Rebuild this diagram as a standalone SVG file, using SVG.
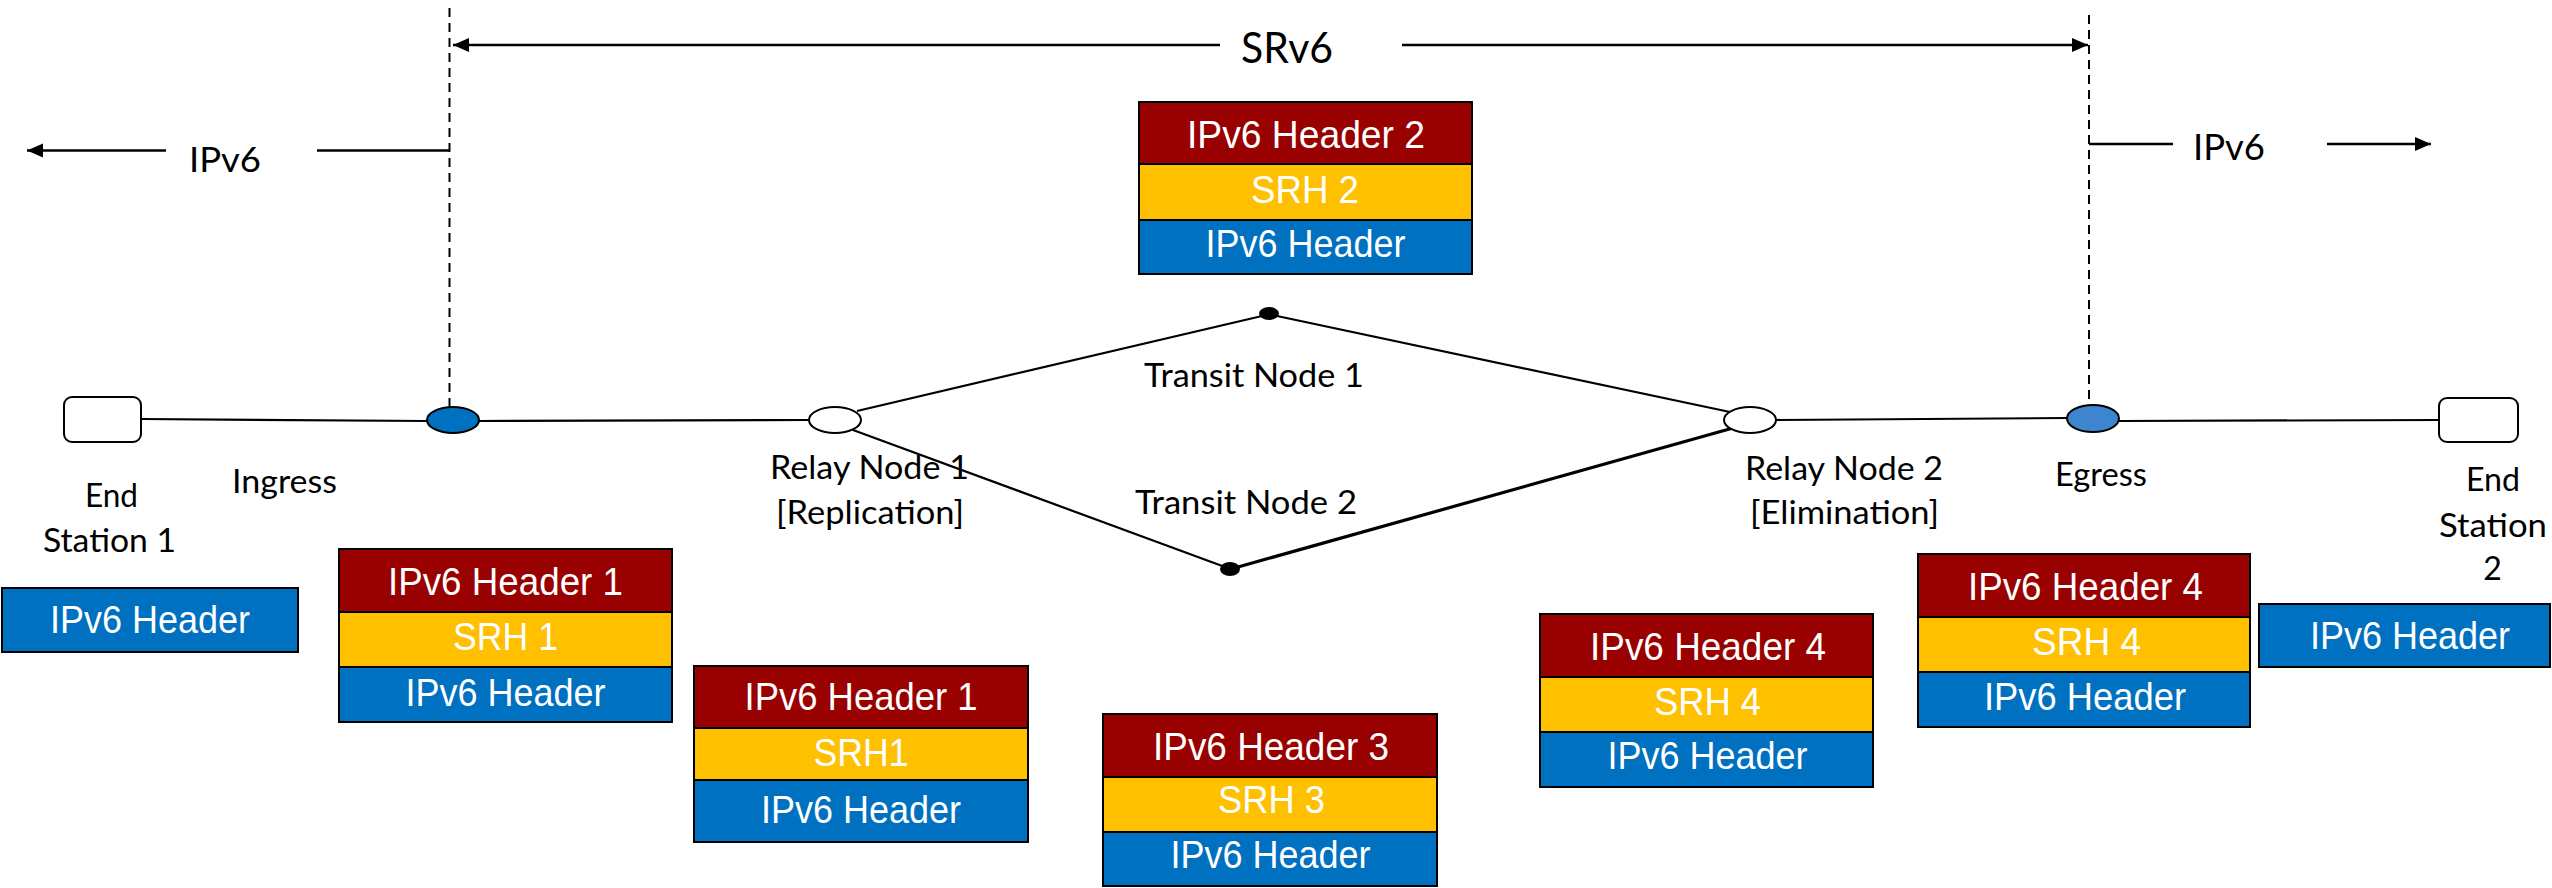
<svg xmlns="http://www.w3.org/2000/svg" width="2552" height="888" viewBox="0 0 2552 888">
<defs>
<marker id="ah" markerUnits="userSpaceOnUse" markerWidth="18" markerHeight="16" refX="16" refY="7" orient="auto">
<path d="M0,0 L16,7 L0,14 z" fill="#000"/>
</marker>
<style>
.lbl{font-family:Lato,"Liberation Sans",sans-serif;font-size:32px;fill:#000;text-anchor:middle}
.pk{font-family:"Liberation Sans",Arial,sans-serif;font-size:39px;fill:#fff;text-anchor:middle}
.r{fill:#990000;stroke:#000;stroke-width:2}
.y{fill:#FFC000;stroke:#000;stroke-width:2}
.b{fill:#0070C0;stroke:#000;stroke-width:2}
.ln{stroke:#000;stroke-width:2.2;fill:none}
.dash{stroke:#000;stroke-width:2;stroke-dasharray:9 6;fill:none}
.arr{stroke:#000;stroke-width:2.5;fill:none}
.es{fill:#fff;stroke:#000;stroke-width:2}
</style>
</defs>
<rect width="2552" height="888" fill="#fff"/>

<g id="connectors">
<line class="dash" x1="449.5" y1="8" x2="449.5" y2="407"/>
<line class="dash" x1="2089" y1="15" x2="2089" y2="405"/>
<line class="arr" x1="1220" y1="45" x2="453" y2="45" marker-end="url(#ah)"/>
<line class="arr" x1="1402" y1="45" x2="2088" y2="45" marker-end="url(#ah)"/>
<line class="arr" x1="449.5" y1="150.5" x2="317" y2="150.5"/>
<line class="arr" x1="166" y1="150.5" x2="27" y2="150.5" marker-end="url(#ah)"/>
<line class="arr" x1="2089" y1="144" x2="2173" y2="144"/>
<line class="arr" x1="2327" y1="144" x2="2431" y2="144" marker-end="url(#ah)"/>
<line class="ln" x1="141" y1="419" x2="427" y2="421"/>
<line class="ln" x1="479" y1="421" x2="809" y2="420"/>
<line class="ln" x1="857" y1="411" x2="1262" y2="316"/>
<line class="ln" x1="1277" y1="316" x2="1730" y2="412"/>
<line class="ln" x1="853" y1="430" x2="1225" y2="567"/>
<line class="ln" x1="1238" y1="567" x2="1733" y2="428" style="stroke-width:3.2"/>
<line class="ln" x1="1776" y1="420" x2="2067" y2="418"/>
<line class="ln" x1="2119" y1="421" x2="2439" y2="420"/>
<text class="lbl" x="1287" y="63" style="font-size:42px" textLength="92" lengthAdjust="spacingAndGlyphs">SRv6</text>
<text class="lbl" x="225" y="172" style="font-size:35px" textLength="72" lengthAdjust="spacingAndGlyphs">IPv6</text>
<text class="lbl" x="2229" y="160" style="font-size:36px" textLength="72" lengthAdjust="spacingAndGlyphs">IPv6</text>
</g>

<g id="end-station-1">
<rect class="es" x="64" y="397" width="77" height="45" rx="8"/>
<text class="lbl" x="111.5" y="507" textLength="53" lengthAdjust="spacingAndGlyphs">End</text>
<text class="lbl" x="109.5" y="552" textLength="133" lengthAdjust="spacingAndGlyphs">Station 1</text>
</g>

<g id="ingress">
<ellipse cx="453" cy="420" rx="26" ry="13" fill="#0070C0" stroke="#000" stroke-width="2"/>
<text class="lbl" x="284.5" y="493" textLength="105" lengthAdjust="spacingAndGlyphs">Ingress</text>
</g>

<g id="relay-node-1">
<ellipse cx="835" cy="420" rx="26" ry="13" fill="#fff" stroke="#000" stroke-width="2"/>
<text class="lbl" x="869.5" y="479" textLength="199" lengthAdjust="spacingAndGlyphs">Relay Node 1</text>
<text class="lbl" x="870" y="524" textLength="188" lengthAdjust="spacingAndGlyphs">[Replication]</text>
</g>

<g id="transit-node-1">
<ellipse cx="1269" cy="313.5" rx="10" ry="6.5" fill="#000"/>
<text class="lbl" x="1254" y="387" textLength="220" lengthAdjust="spacingAndGlyphs">Transit Node 1</text>
</g>

<g id="transit-node-2">
<ellipse cx="1230" cy="569" rx="10" ry="7" fill="#000"/>
<text class="lbl" x="1246" y="514" textLength="222" lengthAdjust="spacingAndGlyphs">Transit Node 2</text>
</g>

<g id="relay-node-2">
<ellipse cx="1750" cy="420" rx="26" ry="13" fill="#fff" stroke="#000" stroke-width="2"/>
<text class="lbl" x="1844" y="480" textLength="198" lengthAdjust="spacingAndGlyphs">Relay Node 2</text>
<text class="lbl" x="1844.5" y="524" textLength="189" lengthAdjust="spacingAndGlyphs">[Elimination]</text>
</g>

<g id="egress">
<ellipse cx="2093" cy="418.5" rx="26" ry="13.5" fill="#3D85CE" stroke="#000" stroke-width="2"/>
<text class="lbl" x="2101" y="486" textLength="92" lengthAdjust="spacingAndGlyphs">Egress</text>
</g>

<g id="end-station-2">
<rect class="es" x="2439" y="398" width="79" height="44" rx="8"/>
<text class="lbl" x="2493" y="491" textLength="54" lengthAdjust="spacingAndGlyphs">End</text>
<text class="lbl" x="2493" y="537" textLength="108" lengthAdjust="spacingAndGlyphs">Station</text>
<text class="lbl" x="2492.5" y="580">2</text>
</g>

<g id="packet-end-station-1">
<rect class="b" x="2" y="588" width="296" height="64"/>
<text class="pk" x="150" y="633" textLength="200" lengthAdjust="spacingAndGlyphs">IPv6 Header</text>
</g>

<g id="packet-ingress">
<rect class="r" x="339" y="549" width="333" height="63"/>
<rect class="y" x="339" y="612" width="333" height="55"/>
<rect class="b" x="339" y="667" width="333" height="55"/>
<text class="pk" x="505.5" y="595" textLength="235" lengthAdjust="spacingAndGlyphs">IPv6 Header  1</text>
<text class="pk" x="505.5" y="650" textLength="105" lengthAdjust="spacingAndGlyphs">SRH 1</text>
<text class="pk" x="505.5" y="706" textLength="200" lengthAdjust="spacingAndGlyphs">IPv6 Header</text>
</g>

<g id="packet-relay-1">
<rect class="r" x="694" y="666" width="334" height="62"/>
<rect class="y" x="694" y="728" width="334" height="52"/>
<rect class="b" x="694" y="780" width="334" height="62"/>
<text class="pk" x="861" y="710" textLength="233" lengthAdjust="spacingAndGlyphs">IPv6 Header  1</text>
<text class="pk" x="861" y="766" textLength="95" lengthAdjust="spacingAndGlyphs">SRH1</text>
<text class="pk" x="861" y="823" textLength="200" lengthAdjust="spacingAndGlyphs">IPv6 Header</text>
</g>

<g id="packet-transit-1">
<rect class="r" x="1139" y="102" width="333" height="62"/>
<rect class="y" x="1139" y="164" width="333" height="56"/>
<rect class="b" x="1139" y="220" width="333" height="54"/>
<text class="pk" x="1306" y="148" textLength="238" lengthAdjust="spacingAndGlyphs">IPv6 Header  2</text>
<text class="pk" x="1305" y="203" textLength="108" lengthAdjust="spacingAndGlyphs">SRH 2</text>
<text class="pk" x="1305.5" y="257" textLength="200" lengthAdjust="spacingAndGlyphs">IPv6 Header</text>
</g>

<g id="packet-transit-2">
<rect class="r" x="1103" y="714" width="334" height="63"/>
<rect class="y" x="1103" y="777" width="334" height="55"/>
<rect class="b" x="1103" y="832" width="334" height="54"/>
<text class="pk" x="1271" y="760" textLength="236" lengthAdjust="spacingAndGlyphs">IPv6 Header  3</text>
<text class="pk" x="1271.5" y="813" textLength="107" lengthAdjust="spacingAndGlyphs">SRH 3</text>
<text class="pk" x="1270.5" y="868" textLength="200" lengthAdjust="spacingAndGlyphs">IPv6 Header</text>
</g>

<g id="packet-relay-2">
<rect class="r" x="1540" y="614" width="333" height="63"/>
<rect class="y" x="1540" y="677" width="333" height="55"/>
<rect class="b" x="1540" y="732" width="333" height="55"/>
<text class="pk" x="1708" y="660" textLength="236" lengthAdjust="spacingAndGlyphs">IPv6 Header  4</text>
<text class="pk" x="1707.5" y="715" textLength="107" lengthAdjust="spacingAndGlyphs">SRH 4</text>
<text class="pk" x="1707.5" y="769" textLength="200" lengthAdjust="spacingAndGlyphs">IPv6 Header</text>
</g>

<g id="packet-egress">
<rect class="r" x="1918" y="554" width="332" height="63"/>
<rect class="y" x="1918" y="617" width="332" height="55"/>
<rect class="b" x="1918" y="672" width="332" height="55"/>
<text class="pk" x="2085.5" y="600" textLength="235" lengthAdjust="spacingAndGlyphs">IPv6 Header  4</text>
<text class="pk" x="2086.5" y="655" textLength="109" lengthAdjust="spacingAndGlyphs">SRH 4</text>
<text class="pk" x="2085" y="710" textLength="202" lengthAdjust="spacingAndGlyphs">IPv6 Header</text>
</g>

<g id="packet-end-station-2">
<rect class="b" x="2259" y="604" width="291" height="63"/>
<text class="pk" x="2410" y="649" textLength="200" lengthAdjust="spacingAndGlyphs">IPv6 Header</text>
</g>
</svg>
